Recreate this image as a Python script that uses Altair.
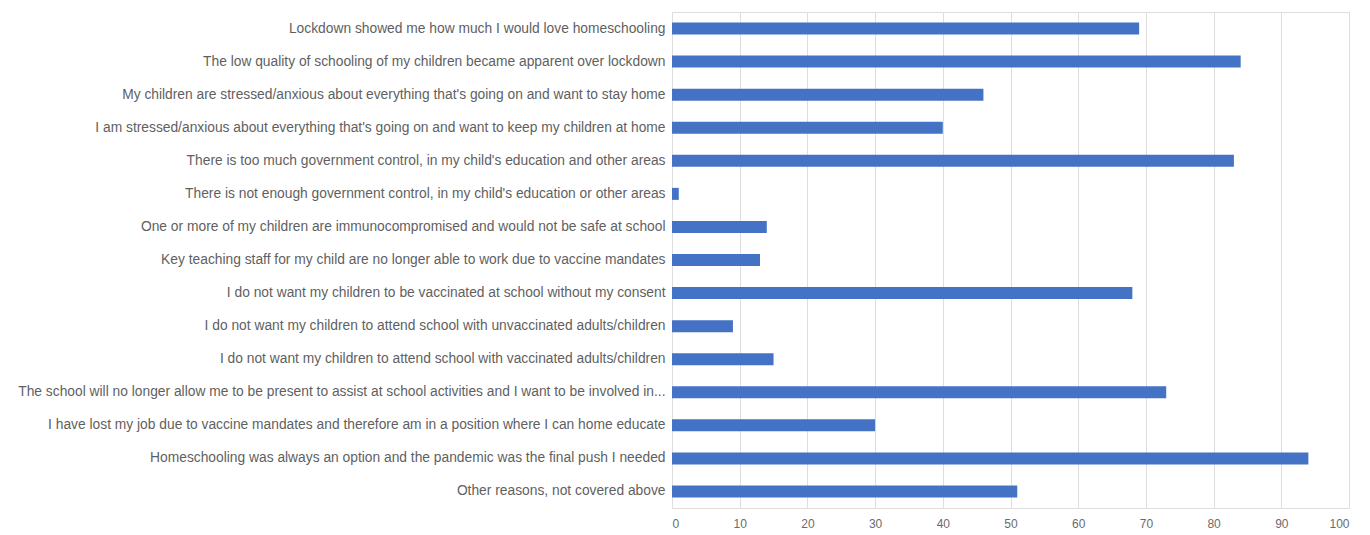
import altair as alt
import pandas as pd

reasons = [
    "Lockdown showed me how much I would love homeschooling",
    "The low quality of schooling of my children became apparent over lockdown",
    "My children are stressed/anxious about everything that's going on and want to stay home",
    "I am stressed/anxious about everything that's going on and want to keep my children at home",
    "There is too much government control, in my child's education and other areas",
    "There is not enough government control, in my child's education or other areas",
    "One or more of my children are immunocompromised and would not be safe at school",
    "Key teaching staff for my child are no longer able to work due to vaccine mandates",
    "I do not want my children to be vaccinated at school without my consent",
    "I do not want my children to attend school with unvaccinated adults/children",
    "I do not want my children to attend school with vaccinated adults/children",
    "The school will no longer allow me to be present to assist at school activities and I want to be involved in...",
    "I have lost my job due to vaccine mandates and therefore am in a position where I can home educate",
    "Homeschooling was always an option and the pandemic was the final push I needed",
    "Other reasons, not covered above",
]
values = [69, 84, 46, 40, 83, 1, 14, 13, 68, 9, 15, 73, 30, 94, 51]
x_ticks = [0, 10, 20, 30, 40, 50, 60, 70, 80, 90, 100]

df = pd.DataFrame({"reason": reasons, "value": values})

chart = (
    alt.Chart(df)
    .mark_bar(size=12, color="#4472C4")
    .encode(
        x=alt.X(
            "value:Q",
            scale=alt.Scale(domain=[0, 100], nice=False),
            axis=alt.Axis(
                values=x_ticks,
                title=None,
                grid=True,
                gridColor="#dedede",
                domain=False,
                ticks=False,
                labelColor="#6b6b6b",
                labelFontSize=12,
                labelPadding=10,
                labelFont="Liberation Sans",
            ),
        ),
        y=alt.Y(
            "reason:N",
            sort=reasons,
            axis=alt.Axis(
                title=None,
                ticks=False,
                domain=True,
                domainColor="#dedede",
                labelColor="#5f5f5f",
                labelFontSize=13.8,
                labelLimit=700,
                labelPadding=7,
                labelFont="Liberation Sans",
            ),
        ),
    )
    .properties(
        width=677,
        height=496,
        autosize=alt.AutoSizeParams(type="none"),
        padding={"left": 664, "top": 4, "right": 10, "bottom": 30},
    )
    .configure_view(stroke=None)
    .configure(background="white")
)

chart.save("out.html", embed_options={"renderer": "svg", "actions": False})
